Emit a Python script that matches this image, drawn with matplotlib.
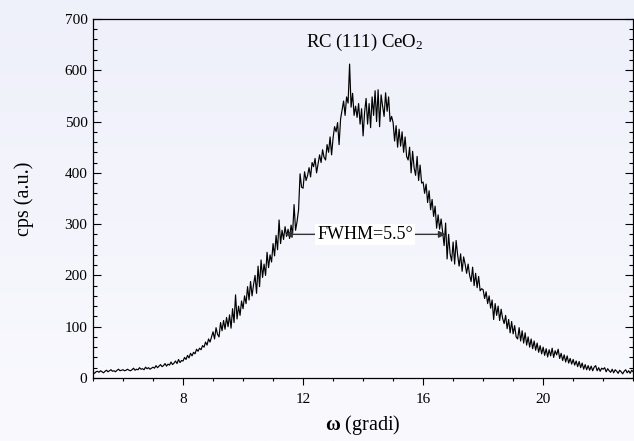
import numpy as np
import matplotlib
matplotlib.use("Agg")
import matplotlib.pyplot as plt
from matplotlib.ticker import MultipleLocator, FixedLocator

plt.rcParams['font.family'] = ['Liberation Serif', 'DejaVu Serif']
plt.rcParams['mathtext.fontset'] = 'custom'
plt.rcParams['mathtext.rm'] = 'Liberation Serif'
plt.rcParams['mathtext.it'] = 'Liberation Serif:italic'
plt.rcParams['mathtext.bf'] = 'Liberation Serif:bold'

# rocking curve, 0.05 deg steps from 5 to 23 deg
cps = [
    11, 9, 12, 13, 11, 14, 12, 10, 13, 15, 12, 14, 16, 13, 14, 12, 15, 17, 14, 15,
    16, 14, 15, 17, 15, 14, 16, 19, 15, 17, 16, 20, 17, 18, 16, 21, 18, 20, 17, 19,
    21, 19, 24, 20, 23, 26, 22, 24, 28, 23, 27, 25, 31, 26, 29, 33, 28, 36, 30, 34,
    33, 40, 36, 44, 39, 48, 43, 50, 47, 56, 52, 58, 55, 63, 60, 70, 64, 76, 70, 80,
    90, 76, 98, 85, 80, 108, 92, 112, 95, 118, 100, 123, 97, 135, 108, 162, 115, 140, 122, 150,
    135, 160, 145, 178, 152, 188, 160, 182, 200, 165, 218, 178, 230, 196, 222, 200, 245, 215, 240, 226,
    262, 238, 278, 250, 308, 262, 288, 270, 295, 276, 290, 272, 298, 280, 338, 288, 305, 328, 398, 372,
    370, 402, 385, 395, 410, 392, 420, 412, 428, 400, 418, 435, 420, 445, 430, 425, 455, 440, 470, 435,
    468, 490, 480, 498, 455, 505, 522, 540, 512, 548, 536, 612, 528, 555, 512, 530, 508, 535, 495, 525,
    472, 518, 545, 495, 535, 488, 548, 512, 560, 500, 562, 490, 552, 530, 510, 556, 520, 548, 500, 510,
    498, 462, 492, 450, 485, 452, 480, 440, 470, 432, 425, 450, 400, 442, 410, 395, 432, 385, 415, 380,
    382, 360, 378, 342, 365, 328, 348, 315, 335, 292, 318, 290, 310, 285, 258, 302, 232, 280, 242, 228,
    265, 222, 268, 240, 218, 242, 208, 236, 222, 204, 222, 200, 188, 216, 180, 204, 176, 198, 170, 174,
    172, 155, 168, 145, 160, 136, 152, 114, 145, 122, 140, 112, 134, 116, 106, 122, 96, 114, 88, 110,
    86, 102, 80, 76, 98, 72, 92, 68, 88, 64, 80, 60, 76, 57, 72, 54, 68, 50, 63, 47,
    60, 44, 57, 41, 55, 43, 58, 40, 53, 45, 56, 38, 48, 34, 45, 31, 43, 29, 38, 27,
    36, 25, 33, 22, 32, 20, 29, 17, 26, 16, 24, 15, 23, 14, 21, 24, 14, 20, 13, 19,
    17, 20, 12, 18, 14, 11, 17, 10, 16, 13, 9, 15, 12, 8, 13, 16, 10, 14, 9, 15,
    12,
]
omega = np.linspace(5, 23, len(cps))

x_ticks = [8, 12, 16, 20]
y_ticks = [0, 100, 200, 300, 400, 500, 600, 700]
fwhm_left = 11.4
fwhm_right = 16.75
fwhm_level = 280

fig = plt.figure(figsize=(6.34, 4.41), dpi=100)

# soft lavender backdrop
bg = fig.add_axes([0, 0, 1, 1], zorder=-10)
grad = np.linspace(0, 1, 256).reshape(-1, 1)
top = np.array([238, 240, 250]) / 255.0
bot = np.array([250, 250, 254]) / 255.0
img = top + (bot - top) * grad[:, :, None]
bg.imshow(img, aspect='auto', extent=[0, 1, 0, 1])
bg.axis('off')

ax = fig.add_axes([0.1467, 0.143, 0.852, 0.814])
ax.set_facecolor('none')
ax.plot(omega, cps, color='black', lw=0.85)

ax.set_xlim(5, 23)
ax.set_ylim(0, 700)
ax.xaxis.set_major_locator(FixedLocator(x_ticks))
ax.xaxis.set_minor_locator(MultipleLocator(1))
ax.yaxis.set_major_locator(FixedLocator(y_ticks))
ax.yaxis.set_minor_locator(MultipleLocator(20))

ax.tick_params(axis='x', which='major', direction='out', length=5, width=0.8, labelsize=11, pad=6)
ax.tick_params(axis='x', which='minor', direction='out', length=2.5, width=0.8)
ax.tick_params(axis='y', which='major', direction='in', length=5.5, width=0.8,
               right=True, labelsize=11, pad=4)
ax.tick_params(axis='y', which='minor', direction='in', length=3, width=0.8, right=True)
for s in ax.spines.values():
    s.set_linewidth(0.9)

ax.set_xlabel(r'$\mathbf{ω}$ (gradi)', fontsize=14.5, labelpad=5)
ax.set_ylabel('cps (a.u.)', fontsize=14.5, labelpad=22)

ax.text(14.05, 655, r'RC (111) CeO$_2$', ha='center', va='center', fontsize=13.5)

ax.annotate('', xy=(fwhm_left, fwhm_level), xytext=(fwhm_right, fwhm_level),
            arrowprops=dict(arrowstyle='<|-|>', color='#333333', lw=1.0,
                            mutation_scale=10, shrinkA=0, shrinkB=0))
ax.text((fwhm_left + fwhm_right) / 2, fwhm_level, 'FWHM=5.5°', ha='center', va='center',
        fontsize=13, bbox=dict(facecolor='white', edgecolor='none', pad=1.5))

fig.savefig('out.png', dpi=100)
